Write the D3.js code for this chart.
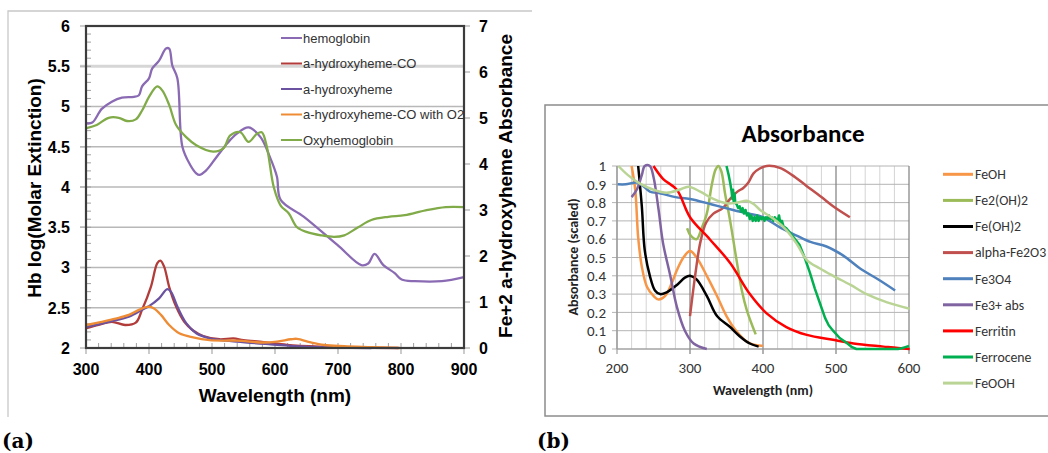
<!DOCTYPE html>
<html><head><meta charset="utf-8">
<script src="https://cdn.jsdelivr.net/npm/d3@7"></script>
<style>html,body{margin:0;padding:0;background:#fff;}svg{display:block;}</style>
</head><body>
<svg id="c" width="1048" height="453"></svg>
<script>
// ---------- Panel (a) data ----------
const hemoglobin = [[301,4.79],[310,4.80],[325,4.97],[341,5.06],[357,5.11],[376,5.12],[384,5.14],[389,5.25],[400,5.35],[405,5.47],[416,5.57],[427,5.72],[432,5.72],[437,5.51],[445,5.35],[453,4.50],[465,4.28],[475,4.17],[480,4.15],[490,4.20],[507,4.37],[525,4.55],[539,4.66],[558,4.74],[577,4.62],[592,4.37],[603,4.13],[609,3.84],[646,3.63],[699,3.28],[737,3.03],[748,3.05],[758,3.17],[772,3.03],[790,2.93],[801,2.85],[822,2.83],[865,2.83],[900,2.88]];
const oxyhemoglobin = [[301,4.73],[317,4.77],[336,4.86],[352,4.86],[365,4.82],[379,4.84],[389,4.95],[400,5.12],[413,5.25],[421,5.20],[432,5.02],[443,4.77],[459,4.62],[475,4.52],[502,4.44],[518,4.48],[529,4.64],[545,4.68],[558,4.56],[571,4.66],[579,4.68],[587,4.50],[598,4.00],[609,3.77],[622,3.67],[635,3.50],[651,3.44],[673,3.40],[694,3.38],[710,3.40],[732,3.50],[753,3.59],[780,3.63],[806,3.65],[839,3.71],[871,3.75],[900,3.75]];
const hydroxyhemeCO = [[301,0.43],[320,0.50],[341,0.57],[362,0.50],[379,0.55],[389,0.83],[403,1.33],[413,1.84],[418,1.90],[424,1.77],[432,1.33],[443,0.90],[456,0.57],[470,0.38],[486,0.26],[512,0.19],[534,0.21],[550,0.17],[582,0.13],[619,0.07],[673,0.03],[726,0.01],[796,0.0]];
const hydroxyheme = [[301,0.46],[336,0.57],[368,0.68],[389,0.83],[400,0.91],[416,1.08],[429,1.28],[435,1.22],[445,0.90],[459,0.54],[475,0.32],[496,0.21],[539,0.14],[593,0.08],[646,0.03],[700,0.01],[753,0.0]];
const hydroxyhemeCO_O2 = [[301,0.50],[325,0.57],[347,0.64],[368,0.72],[384,0.83],[400,0.90],[408,0.86],[419,0.72],[432,0.50],[448,0.32],[470,0.23],[496,0.17],[539,0.16],[582,0.12],[603,0.14],[625,0.19],[635,0.20],[657,0.12],[678,0.065],[710,0.04],[753,0.02],[798,0.0]];
const aLegend = ["hemoglobin","a-hydroxyheme-CO","a-hydroxyheme","a-hydroxyheme-CO with O2","Oxyhemoglobin"];
const aColors = ["#8a6bb3","#b23c3a","#6b52a0","#ee8c36","#80ab48"];
const aLeftTicks = [2,2.5,3,3.5,4,4.5,5,5.5,6];
const aRightTicks = [0,1,2,3,4,5,6,7];
const aXTicks = [300,400,500,600,700,800,900];

// ---------- Panel (b) data ----------
const FeOH = [[220,1.0],[225,0.87],[229,0.61],[234,0.45],[241,0.34],[250,0.29],[257,0.27],[266,0.29],[275,0.36],[282,0.43],[291,0.50],[300,0.535],[309,0.50],[323,0.40],[337,0.29],[350,0.18],[364,0.095],[378,0.04],[391,0.02],[400,0.018]];
const Fe2OH2 = [[296,0.66],[301,0.62],[309,0.60],[316,0.66],[323,0.74],[330,0.90],[335,0.98],[339,1.0],[343,0.97],[348,0.85],[355,0.70],[364,0.48],[371,0.32],[378,0.21],[390,0.08]];
const FeOH2 = [[229,1.0],[234,0.78],[238,0.54],[245,0.40],[252,0.32],[259,0.30],[268,0.31],[282,0.35],[293,0.39],[300,0.40],[309,0.38],[323,0.29],[337,0.18],[355,0.12],[368,0.07],[382,0.03],[394,0.013]];
const alphaFe2O3 = [[300,0.18],[307,0.40],[314,0.58],[322,0.69],[332,0.74],[345,0.77],[355,0.82],[365,0.86],[373,0.88],[380,0.91],[387,0.96],[395,0.985],[405,1.0],[423,0.99],[440,0.95],[460,0.89],[480,0.83],[496,0.78],[519,0.72]];
const Fe3O4 = [[201,0.90],[212,0.90],[227,0.91],[236,0.89],[245,0.86],[260,0.85],[280,0.83],[300,0.82],[330,0.79],[359,0.76],[380,0.74],[400,0.72],[425,0.66],[446,0.62],[465,0.585],[487,0.56],[510,0.51],[533,0.44],[558,0.38],[581,0.32]];
const Fe3abs = [[220,0.83],[227,0.87],[234,0.95],[238,1.0],[245,1.0],[250,0.94],[257,0.76],[263,0.58],[273,0.40],[282,0.23],[293,0.10],[305,0.03],[323,0.0]];
const Ferritin = [[250,1.0],[263,0.93],[282,0.87],[300,0.72],[327,0.60],[355,0.47],[382,0.30],[405,0.195],[432,0.12],[460,0.077],[496,0.05],[524,0.03],[565,0.013],[585,0.005],[601,0.0]];
const Ferrocene = [[350,1.0],[353,0.95],[355,0.91],[357,0.86],[358,0.82],[359,0.87],[360,0.80],[361,0.85],[362,0.80],[364,0.79],[366,0.77],[368,0.78],[370,0.75],[372,0.77],[374,0.74],[376,0.76],[378,0.73],[380,0.74],[382,0.71],[384,0.73],[386,0.70],[388,0.72],[390,0.70],[392,0.73],[394,0.70],[396,0.72],[398,0.71],[400,0.72],[402,0.70],[404,0.72],[406,0.71],[408,0.73],[410,0.71],[412,0.72],[414,0.70],[416,0.72],[418,0.71],[420,0.70],[422,0.73],[424,0.68],[426,0.70],[428,0.67],[432,0.66],[440,0.62],[450,0.57],[457,0.50],[464,0.42],[471,0.33],[478,0.25],[485,0.17],[490,0.13],[496,0.10],[505,0.06],[514,0.035],[522,0.01],[528,0.0],[560,0.0],[585,0.0],[590,0.004],[595,0.01],[600,0.016]];
const FeOOH = [[202,1.0],[215,0.95],[231,0.905],[250,0.87],[268,0.854],[285,0.87],[298,0.887],[314,0.86],[332,0.82],[350,0.796],[365,0.80],[378,0.81],[388,0.79],[396,0.76],[415,0.71],[432,0.65],[447,0.57],[460,0.486],[478,0.44],[496,0.40],[520,0.35],[542,0.30],[570,0.255],[601,0.22]];
const bSeries = [FeOH, Fe2OH2, FeOH2, alphaFe2O3, Fe3O4, Fe3abs, Ferritin, Ferrocene, FeOOH];
const bLegend = ["FeOH","Fe2(OH)2","Fe(OH)2","alpha-Fe2O3","Fe3O4","Fe3+ abs","Ferritin","Ferrocene","FeOOH"];
const bColors = ["#f79646","#9bbb59","#000000","#c0504d","#4f81bd","#8064a2","#ff0000","#00b050","#b9d494"];
const bXTicks = [200,300,400,500,600];
const bYTicks = [0,0.1,0.2,0.3,0.4,0.5,0.6,0.7,0.8,0.9,1];

const svg = d3.select("#c");
svg.append("rect").attr("width",1048).attr("height",453).attr("fill","#fff");

// ================= Panel (a) =================
const A = {l:86, r:464, t:26, b:348};
const ax = d3.scaleLinear().domain([300,900]).range([A.l,A.r]);
const ayL = d3.scaleLinear().domain([2,6]).range([A.b,A.t]);
const ayR = d3.scaleLinear().domain([0,7]).range([A.b,A.t]);
const fa = "Arial, 'Liberation Sans', sans-serif";

svg.append("path").attr("d","M8,417 L8,11 L532,11").attr("fill","none").attr("stroke","#c8c8c8").attr("stroke-width",1.3);

const ga = svg.append("g");
aLeftTicks.filter(v=>v>2 && v<6).forEach(v=>{
  ga.append("line").attr("x1",A.l-6).attr("x2",A.r).attr("y1",ayL(v)).attr("y2",ayL(v))
    .attr("stroke", v===5.5 ? "#d6d6d6" : "#b8b8b8").attr("stroke-width", v===5.5 ? 3 : 1.4);
});
ga.selectAll(".lt").data(aLeftTicks).enter().append("line").attr("x1",A.l-6).attr("x2",A.l).attr("y1",d=>ayL(d)).attr("y2",d=>ayL(d)).attr("stroke","#b8b8b8").attr("stroke-width",1.4);
d3.range(2,6.001,0.1).forEach(v=>{
  ga.append("line").attr("x1",A.l).attr("x2",A.l+5).attr("y1",ayL(v)).attr("y2",ayL(v)).attr("stroke","#a0a0a0").attr("stroke-width",1);
});
aRightTicks.forEach(v=>{
  ga.append("line").attr("x1",A.r).attr("x2",A.r+6).attr("y1",ayR(v)).attr("y2",ayR(v)).attr("stroke","#b0b0b0").attr("stroke-width",1.3);
});
d3.range(300,901,20).forEach(v=>{
  ga.append("line").attr("x1",ax(v)).attr("x2",ax(v)).attr("y1",A.b).attr("y2",A.b-5).attr("stroke","#a0a0a0").attr("stroke-width",1);
});
aXTicks.forEach(v=>{
  ga.append("line").attr("x1",ax(v)).attr("x2",ax(v)).attr("y1",A.b).attr("y2",A.b+6).attr("stroke","#b0b0b0").attr("stroke-width",1.3);
});

const curveA = d3.curveCatmullRom.alpha(0.5);
const lineL = d3.line().x(d=>ax(d[0])).y(d=>ayL(d[1])).curve(curveA);
const lineR = d3.line().x(d=>ax(d[0])).y(d=>ayR(d[1])).curve(curveA);
const aSeries = [
  {d:hemoglobin, f:lineL, c:aColors[0]},
  {d:hydroxyhemeCO, f:lineR, c:aColors[1]},
  {d:hydroxyheme, f:lineR, c:aColors[2]},
  {d:hydroxyhemeCO_O2, f:lineR, c:aColors[3]},
  {d:oxyhemoglobin, f:lineL, c:aColors[4]},
];
[aSeries[0], aSeries[4], aSeries[1], aSeries[2], aSeries[3]].forEach(s=>{
  ga.append("path").attr("d",s.f(s.d)).attr("fill","none").attr("stroke",s.c).attr("stroke-width",2.3).attr("stroke-linejoin","round");
});

ga.append("rect").attr("x",A.l).attr("y",A.t).attr("width",A.r-A.l).attr("height",A.b-A.t)
  .attr("fill","none").attr("stroke","#3c3c3c").attr("stroke-width",2.2);

ga.selectAll(".ltl").data(aLeftTicks).enter().append("text")
  .attr("x",70).attr("y",d=>ayL(d)).attr("dy","0.36em").attr("text-anchor","end")
  .attr("font-family",fa).attr("font-weight","bold").attr("font-size",16).text(d=>d);
ga.selectAll(".rtl").data(aRightTicks).enter().append("text")
  .attr("x",479).attr("y",d=>ayR(d)).attr("dy","0.36em").attr("text-anchor","start")
  .attr("font-family",fa).attr("font-weight","bold").attr("font-size",16).text(d=>d);
ga.selectAll(".xtl").data(aXTicks).enter().append("text")
  .attr("x",d=>ax(d)).attr("y",369).attr("dy","0.36em").attr("text-anchor","middle")
  .attr("font-family",fa).attr("font-weight","bold").attr("font-size",16).text(d=>d);

ga.append("text").attr("transform","translate(34,188) rotate(-90)").attr("text-anchor","middle").attr("dy","0.36em")
  .attr("font-family",fa).attr("font-weight","bold").attr("font-size",19).text("Hb log(Molar Extinction)");
ga.append("text").attr("transform","translate(505,186) rotate(-90)").attr("text-anchor","middle").attr("dy","0.36em")
  .attr("font-family",fa).attr("font-weight","bold").attr("font-size",19).text("Fe+2 a-hydroxyheme Absorbance");
ga.append("text").attr("x",275).attr("y",395).attr("text-anchor","middle").attr("dy","0.36em")
  .attr("font-family",fa).attr("font-weight","bold").attr("font-size",19).text("Wavelength (nm)");

aLegend.forEach((name,i)=>{
  const y = 38 + i*25.5;
  ga.append("line").attr("x1",281).attr("x2",302).attr("y1",y).attr("y2",y).attr("stroke",aColors[i]).attr("stroke-width",2);
  ga.append("text").attr("x",303).attr("y",y).attr("dy","0.36em").attr("font-family",fa).attr("font-size",13).attr("fill","#333").text(name);
});

// ================= Panel (b) =================
const B = {l:617, r:909, t:166, b:349};
const bx = d3.scaleLinear().domain([200,600]).range([B.l,B.r]);
const by = d3.scaleLinear().domain([0,1]).range([B.b,B.t]);
const fb = "Carlito, Lato, 'Open Sans', sans-serif";
const gb = svg.append("g");

gb.append("rect").attr("x",545).attr("y",105).attr("width",560).attr("height",311).attr("fill","#fff").attr("stroke","#8c8c8c").attr("stroke-width",1.5);
gb.append("text").attr("x",803).attr("y",133).attr("dy","0.36em").attr("text-anchor","middle")
  .attr("font-family",fb).attr("font-weight","bold").attr("font-size",25).text("Absorbance");

d3.range(220,600,20).filter(v=>v%100!==0).forEach(v=>{
  gb.append("line").attr("x1",bx(v)).attr("x2",bx(v)).attr("y1",B.t).attr("y2",B.b).attr("stroke","#d4d4d4").attr("stroke-width",1);
});
bYTicks.forEach(v=>{
  gb.append("line").attr("x1",B.l-5).attr("x2",B.r).attr("y1",by(v)).attr("y2",by(v)).attr("stroke","#b4b4b4").attr("stroke-width",1);
});
bXTicks.forEach(v=>{
  gb.append("line").attr("x1",bx(v)).attr("x2",bx(v)).attr("y1",B.t).attr("y2",B.b+5)
    .attr("stroke", v===200 ? "#a0a0a0" : "#7f7f7f").attr("stroke-width",1.2);
});
gb.append("line").attr("x1",B.l).attr("x2",B.l).attr("y1",B.t).attr("y2",B.b).attr("stroke","#9a9a9a").attr("stroke-width",1.2);
gb.append("line").attr("x1",B.l).attr("x2",B.r).attr("y1",B.b).attr("y2",B.b).attr("stroke","#9a9a9a").attr("stroke-width",1.2);

const lineB = d3.line().x(d=>bx(d[0])).y(d=>by(d[1])).curve(d3.curveCatmullRom.alpha(0.5));
const lineBLin = d3.line().x(d=>bx(d[0])).y(d=>by(d[1]));
bSeries.forEach((s,i)=>{
  gb.append("path").attr("d", (bLegend[i]==="Ferrocene" ? lineBLin : lineB)(s))
    .attr("fill","none").attr("stroke",bColors[i]).attr("stroke-width",2.5).attr("stroke-linejoin","round");
});

gb.selectAll(".byl").data(bYTicks).enter().append("text")
  .attr("x",606).attr("y",d=>by(d)).attr("dy","0.35em").attr("text-anchor","end")
  .attr("font-family",fb).attr("font-size",15).attr("fill","#333").text(d=>d);
gb.selectAll(".bxl").data(bXTicks).enter().append("text")
  .attr("x",d=>bx(d)).attr("y",368).attr("dy","0.35em").attr("text-anchor","middle")
  .attr("font-family",fb).attr("font-size",15).attr("fill","#333").text(d=>d);
gb.append("text").attr("transform","translate(573,257) rotate(-90)").attr("text-anchor","middle").attr("dy","0.35em")
  .attr("font-family",fb).attr("font-weight","bold").attr("font-size",14).attr("fill","#222").text("Absorbance (scaled)");
gb.append("text").attr("x",763).attr("y",390).attr("text-anchor","middle").attr("dy","0.35em")
  .attr("font-family",fb).attr("font-weight","bold").attr("font-size",14).attr("fill","#222").text("Wavelength (nm)");

bLegend.forEach((name,i)=>{
  const y = 174.3 + i*26.1;
  gb.append("line").attr("x1",943).attr("x2",973).attr("y1",y).attr("y2",y).attr("stroke",bColors[i]).attr("stroke-width",3);
  gb.append("text").attr("x",975).attr("y",y).attr("dy","0.35em").attr("font-family",fb).attr("font-size",13.8).attr("fill","#333").text(name);
});

const fc = "'DejaVu Serif', 'Liberation Serif', serif";
svg.append("text").attr("x",2).attr("y",448).attr("font-family",fc).attr("font-weight","bold").attr("font-size",20).text("(a)");
svg.append("text").attr("x",537).attr("y",448).attr("font-family",fc).attr("font-weight","bold").attr("font-size",20).text("(b)");
</script>
</body></html>
